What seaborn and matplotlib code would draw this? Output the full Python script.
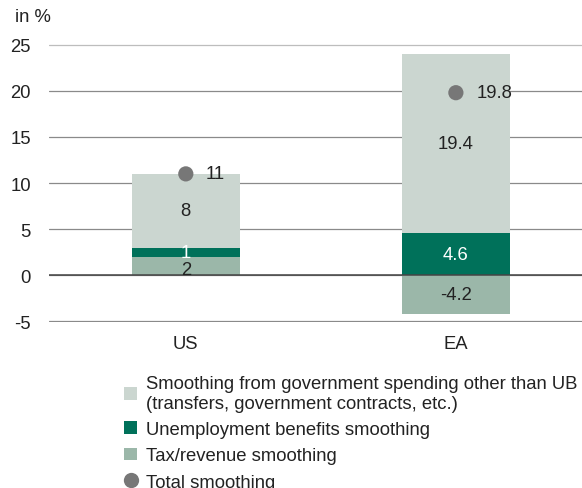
import matplotlib
matplotlib.use("Agg")
import matplotlib.pyplot as plt
from matplotlib.patches import Patch
from matplotlib.lines import Line2D
import numpy as np
import pandas as pd
import seaborn as sns

# ── data ──────────────────────────────────────────────────────────────────────
regions = ["US", "EA"]
tax_smoothing = [2.0, -4.2]
ub_smoothing = [1.0, 4.6]
other_smoothing = [8.0, 19.4]
total_smoothing = [11.0, 19.8]
y_ticks = [-5, 0, 5, 10, 15, 20, 25]

legend_labels = [
    "Smoothing from government spending other than UB\n(transfers, government contracts, etc.)",
    "Unemployment benefits smoothing",
    "Tax/revenue smoothing",
    "Total smoothing",
]

C_OTHER = "#cbd6d0"
C_UB = "#00715a"
C_TAX = "#9bb7a9"
C_DOT = "#777777"
FS = 13.3

sns.set_theme(style="white")
plt.rcParams["font.family"] = ["Liberation Sans", "DejaVu Sans"]
plt.rcParams["axes.unicode_minus"] = False

tax = np.array(tax_smoothing)
ub = np.array(ub_smoothing)
other = np.array(other_smoothing)
pos_tax = np.clip(tax, 0, None)

df = pd.DataFrame({
    "region": regions,
    "top_other": pos_tax + ub + other,
    "top_ub": pos_tax + ub,
    "tax": tax,
    "total": total_smoothing,
})

fig, ax = plt.subplots(figsize=(5.82, 4.89), dpi=100)
fig.subplots_adjust(left=0.084, right=1.0, top=0.908, bottom=0.339)

# stacked look by overlaying bars drawn from zero
bar_kw = dict(width=0.4, saturation=1, ax=ax, zorder=2, linewidth=0)
sns.barplot(data=df, x="region", y="top_other", color=C_OTHER, **bar_kw)
sns.barplot(data=df, x="region", y="top_ub", color=C_UB, **bar_kw)
sns.barplot(data=df, x="region", y="tax", color=C_TAX, **bar_kw)
sns.scatterplot(data=df, x="region", y="total", color=C_DOT, s=120,
                edgecolor="none", ax=ax, zorder=4, legend=False)

ax.set_ylim(-5.08, 25.08)
ax.set_xlim(-0.507, 1.467)
ax.set_yticks(y_ticks)
ax.set_xlabel("")
ax.set_ylabel("")
for s in ax.spines.values():
    s.set_visible(False)
ax.tick_params(axis="both", length=0, labelsize=FS, colors="#222222")
ax.tick_params(axis="y", pad=13)
ax.tick_params(axis="x", pad=9)

ax.yaxis.grid(True, color="#8a8a8a", linewidth=0.9, zorder=0)
ax.set_axisbelow(True)
ax.get_ygridlines()[-1].set_color("#bdbdbd")
ax.axhline(0, color="#444444", linewidth=1.1, zorder=3)

# value labels
for i in range(len(regions)):
    base = pos_tax[i] + ub[i]
    ax.text(i, base + other[i] / 2, f"{other[i]:g}", ha="center", va="center",
            fontsize=FS, color="#222222", zorder=5)
    ax.text(i, pos_tax[i] + ub[i] / 2, f"{ub[i]:g}", ha="center", va="center",
            fontsize=FS, color="white", zorder=5)
    ax.text(i, tax[i] / 2 - (0.4 if tax[i] > 0 else 0), f"{tax[i]:g}",
            ha="center", va="center", fontsize=FS, color="#222222", zorder=5)
    ax.text(i + 0.075, total_smoothing[i], f"{total_smoothing[i]:g}",
            ha="left", va="center", fontsize=FS, color="#222222", zorder=5)

fig.text(15 / 582, 1 - 18 / 489, "in %", fontsize=FS, color="#222222",
         ha="left", va="center")

handles = [
    Patch(facecolor=C_OTHER, edgecolor="none"),
    Patch(facecolor=C_UB, edgecolor="none"),
    Patch(facecolor=C_TAX, edgecolor="none"),
    Line2D([], [], marker="o", linestyle="none", color=C_DOT,
           markersize=11, markeredgewidth=0),
]
fig.legend(handles, legend_labels, loc="upper left",
           bbox_to_anchor=(117 / 582, 1 - 369 / 489), frameon=False,
           fontsize=FS, handlelength=0.7, handleheight=0.7,
           handletextpad=0.45, labelspacing=0.5, borderaxespad=0,
           labelcolor="#222222")

fig.savefig("out.png", dpi=100)
